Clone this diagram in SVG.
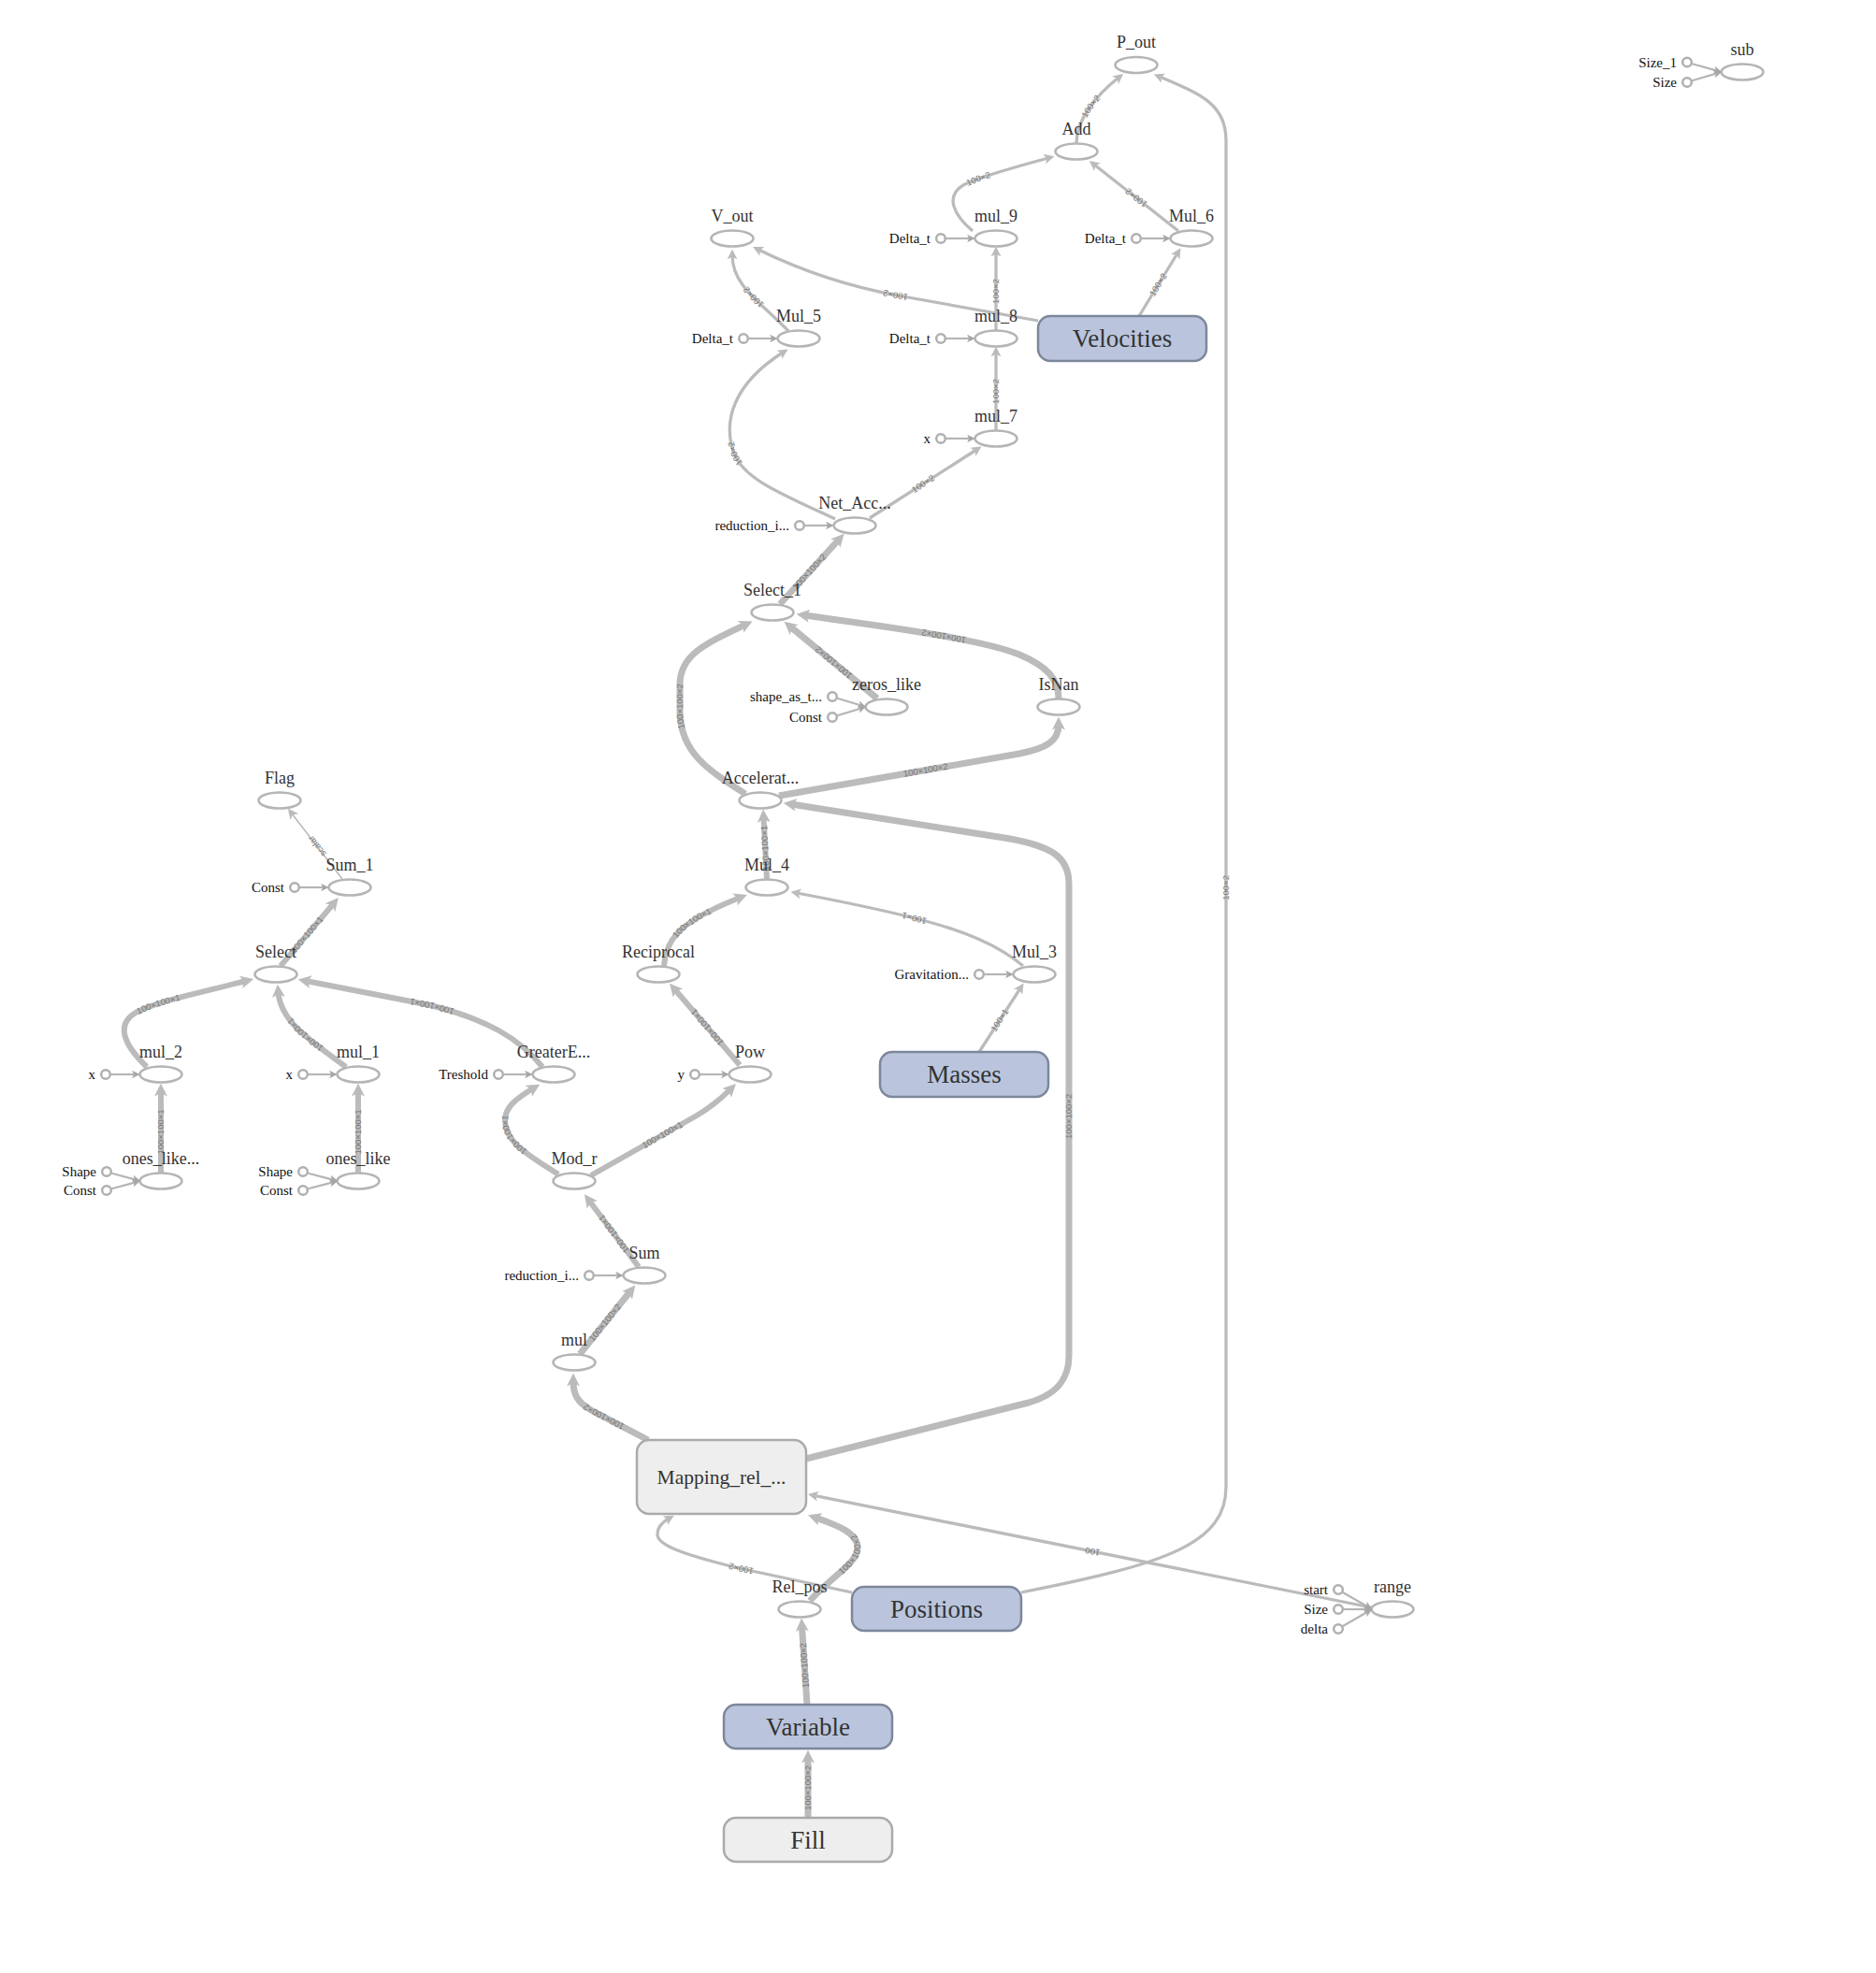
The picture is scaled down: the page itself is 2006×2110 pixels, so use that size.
<svg xmlns="http://www.w3.org/2000/svg" width="2006" height="2110" viewBox="0 0 2006 2110">
<style>
.op{fill:#fff;stroke:#b5b5b5;stroke-width:2.6}
.cc{fill:#fff;stroke:#b0b0b0;stroke-width:2.5}
.ca{fill:none;stroke:#b5b5b5;stroke-width:2.2;marker-end:url(#ahC)}
.lbl{font-family:"Liberation Serif",serif;font-size:18px;fill:#333;text-anchor:middle}
.clbl{font-family:"Liberation Serif",serif;font-size:15px;fill:#111;text-anchor:end}
.mb{fill:#bac5dd;stroke:#7d879b;stroke-width:2.5}
.mg{fill:#eee;stroke:#aaa;stroke-width:2.5}
.mt{font-family:"Liberation Serif",serif;font-size:27px;fill:#333;text-anchor:middle}
.e{fill:none;stroke:#bbb}
.w1{stroke-width:1.6;marker-end:url(#ah)}
.w3{stroke-width:3.3;marker-end:url(#ah)}
.w6{stroke-width:6;marker-end:url(#ahT)}
.w7{stroke-width:7;marker-end:url(#ahT)}
.el{font-family:"Liberation Sans",sans-serif;font-size:9.5px;fill:#777}
</style>
<defs>
<marker id="ah" viewBox="0 0 10 10" refX="4" refY="5" markerUnits="userSpaceOnUse" markerWidth="11" markerHeight="11" orient="auto"><path d="M0,0 L10,5 L0,10 L2.5,5 z" fill="#bbb"/></marker>
<marker id="ahT" viewBox="0 0 10 10" refX="4" refY="5" markerUnits="userSpaceOnUse" markerWidth="14" markerHeight="14" orient="auto"><path d="M0,0 L10,5 L0,10 L2.5,5 z" fill="#bbb"/></marker>
<marker id="ahC" viewBox="0 0 10 10" refX="4" refY="5" markerUnits="userSpaceOnUse" markerWidth="8.5" markerHeight="8.5" orient="auto"><path d="M0,0 L10,5 L0,10 L2.5,5 z" fill="#a6a6a6"/></marker>
</defs>
<rect width="2006" height="2110" fill="#fff"/>

<g id="connectors">
<path id="e1" class="e w3" d="M1151,153 C1151,128 1172,102 1196,83"/>
<path id="e2" class="e w3" d="M1092,1703 C1250,1672 1311,1650 1311,1590 L1311,150 C1311,112 1285,101 1240,82"/>
<path id="e3" class="e w3" d="M1040,247 C1020,230 1010,210 1030,198 C1045,190 1080,180 1121,169"/>
<path id="e4" class="e w3" d="M1260,247 L1170,176"/>
<path id="e5" class="e w3" d="M1110,343 L960,316 C900,305 852,287 811,267"/>
<path id="e6" class="e w3" d="M1218,338 L1259,271"/>
<path id="e7" class="e w3" d="M843,354 C812,322 783,305 783,273"/>
<path id="e8" class="e w3" d="M1065,353 L1065,270"/>
<path id="e9" class="e w3" d="M1065,460 L1065,377"/>
<path id="e10" class="e w3" d="M893,555 C835,528 795,512 785,485 C772,450 785,410 837,377"/>
<path id="e11" class="e w3" d="M930,554 L1044,481"/>
<path id="e12" class="e w7" d="M834,646 L897,577"/>
<path id="e13" class="e w7" d="M938,747 L845,670"/>
<path id="e14" class="e w7" d="M1132,747 C1132,725 1118,712 1090,700 C1045,682 930,668 860,658"/>
<path id="e15" class="e w7" d="M797,849 C758,824 727,805 727,760 L727,732 C727,700 755,688 797,668"/>
<path id="e16" class="e w7" d="M833,851 L1090,806 C1120,800 1132,792 1132,775"/>
<path id="e17" class="e w6" d="M820,940 L816.5,874"/>
<path id="e18" class="e w7" d="M862,1560 L1100,1500 C1135,1490 1143,1470 1143,1450 L1143,945 C1143,915 1122,905 1080,897 L846,860"/>
<path id="e19" class="e w6" d="M710,1033 C712,1003 728,985 791,960"/>
<path id="e20" class="e w3" d="M1094,1033 C1055,1000 1000,983 852,955"/>
<path id="e21" class="e w3" d="M1047,1125 L1091,1057"/>
<path id="e22" class="e w6" d="M791,1139 L721.5,1058"/>
<path id="e23" class="e w6" d="M632,1257 L745,1193 C762,1183 772,1174 781,1165"/>
<path id="e24" class="e w6" d="M597,1256 C565,1235 540,1222 540,1198 C540,1185 550,1176 570,1164"/>
<path id="e25" class="e w6" d="M683,1355 L630,1284"/>
<path id="e26" class="e w7" d="M620,1448 L674,1381"/>
<path id="e27" class="e w7" d="M693,1540 L632,1508 C618,1500 613,1492 613,1477"/>
<path id="e28" class="e w3" d="M911,1703 L790,1677 C728,1662 703,1652 703,1641 C703,1633 708,1628 715,1624"/>
<path id="e29" class="e w7" d="M866,1712 C890,1685 917,1672 917,1655 C917,1640 898,1632 872,1623"/>
<path id="e30" class="e w7" d="M863,1823 L857.5,1739"/>
<path id="e31" class="e w7" d="M864,1944 L864,1880"/>
<path id="e32" class="e w3" d="M1466,1719 L870.5,1599.3"/>
<path id="e33" class="e w1" d="M366,940 L312,870"/>
<path id="e34" class="e w6" d="M300,1033 L356.5,966.5"/>
<path id="e35" class="e w6" d="M157,1141 C130,1115 125,1095 145,1083 C165,1072 200,1065 263,1049"/>
<path id="e36" class="e w6" d="M370,1141 C330,1112 300,1092 297.5,1061"/>
<path id="e37" class="e w6" d="M580,1141 C555,1110 520,1090 460,1075 L327,1049"/>
<path id="e38" class="e w6" d="M172,1254 L172,1167"/>
<path id="e39" class="e w6" d="M383,1254 L383,1167"/>

<text class="el" dy="3.2"><textPath href="#e1" startOffset="50%" text-anchor="middle">100×2</textPath></text>
<text class="el" dy="3.2"><textPath href="#e2" startOffset="50%" text-anchor="middle">100×2</textPath></text>
<text class="el" dy="3.2"><textPath href="#e3" startOffset="50%" text-anchor="middle">100×2</textPath></text>
<text class="el" dy="3.2"><textPath href="#e4" startOffset="50%" text-anchor="middle">100×2</textPath></text>
<text class="el" dy="3.2"><textPath href="#e5" startOffset="50%" text-anchor="middle">100×2</textPath></text>
<text class="el" dy="3.2"><textPath href="#e6" startOffset="50%" text-anchor="middle">100×2</textPath></text>
<text class="el" dy="3.2"><textPath href="#e7" startOffset="50%" text-anchor="middle">100×2</textPath></text>
<text class="el" dy="3.2"><textPath href="#e8" startOffset="50%" text-anchor="middle">100×2</textPath></text>
<text class="el" dy="3.2"><textPath href="#e9" startOffset="50%" text-anchor="middle">100×2</textPath></text>
<text class="el" dy="3.2"><textPath href="#e10" startOffset="50%" text-anchor="middle">100×2</textPath></text>
<text class="el" dy="3.2"><textPath href="#e11" startOffset="50%" text-anchor="middle">100×2</textPath></text>
<text class="el" dy="3.2"><textPath href="#e12" startOffset="50%" text-anchor="middle">100×100×2</textPath></text>
<text class="el" dy="3.2"><textPath href="#e13" startOffset="50%" text-anchor="middle">100×100×2</textPath></text>
<text class="el" dy="3.2"><textPath href="#e14" startOffset="50%" text-anchor="middle">100×100×2</textPath></text>
<text class="el" dy="3.2"><textPath href="#e15" startOffset="50%" text-anchor="middle">100×100×2</textPath></text>
<text class="el" dy="3.2"><textPath href="#e16" startOffset="50%" text-anchor="middle">100×100×2</textPath></text>
<text class="el" dy="3.2"><textPath href="#e17" startOffset="50%" text-anchor="middle">100×100×1</textPath></text>
<text class="el" dy="3.2"><textPath href="#e18" startOffset="50%" text-anchor="middle">100×100×2</textPath></text>
<text class="el" dy="3.2"><textPath href="#e19" startOffset="50%" text-anchor="middle">100×100×1</textPath></text>
<text class="el" dy="3.2"><textPath href="#e20" startOffset="50%" text-anchor="middle">100×1</textPath></text>
<text class="el" dy="3.2"><textPath href="#e21" startOffset="50%" text-anchor="middle">100×1</textPath></text>
<text class="el" dy="3.2"><textPath href="#e22" startOffset="50%" text-anchor="middle">100×100×1</textPath></text>
<text class="el" dy="3.2"><textPath href="#e23" startOffset="50%" text-anchor="middle">100×100×1</textPath></text>
<text class="el" dy="3.2"><textPath href="#e24" startOffset="50%" text-anchor="middle">100×100×1</textPath></text>
<text class="el" dy="3.2"><textPath href="#e25" startOffset="50%" text-anchor="middle">100×100×1</textPath></text>
<text class="el" dy="3.2"><textPath href="#e26" startOffset="50%" text-anchor="middle">100×100×2</textPath></text>
<text class="el" dy="3.2"><textPath href="#e27" startOffset="50%" text-anchor="middle">100×100×2</textPath></text>
<text class="el" dy="3.2"><textPath href="#e28" startOffset="50%" text-anchor="middle">100×2</textPath></text>
<text class="el" dy="3.2"><textPath href="#e29" startOffset="50%" text-anchor="middle">100×100×2</textPath></text>
<text class="el" dy="3.2"><textPath href="#e30" startOffset="50%" text-anchor="middle">100×100×2</textPath></text>
<text class="el" dy="3.2"><textPath href="#e31" startOffset="50%" text-anchor="middle">100×100×2</textPath></text>
<text class="el" dy="3.2"><textPath href="#e32" startOffset="50%" text-anchor="middle">100</textPath></text>
<text class="el" dy="3.2"><textPath href="#e33" startOffset="50%" text-anchor="middle">scalar</textPath></text>
<text class="el" dy="3.2"><textPath href="#e34" startOffset="50%" text-anchor="middle">100×100×1</textPath></text>
<text class="el" dy="3.2"><textPath href="#e35" startOffset="50%" text-anchor="middle">100×100×1</textPath></text>
<text class="el" dy="3.2"><textPath href="#e36" startOffset="50%" text-anchor="middle">100×100×1</textPath></text>
<text class="el" dy="3.2"><textPath href="#e37" startOffset="50%" text-anchor="middle">100×100×1</textPath></text>
<text class="el" dy="3.2"><textPath href="#e38" startOffset="50%" text-anchor="middle">100×100×1</textPath></text>
<text class="el" dy="3.2"><textPath href="#e39" startOffset="50%" text-anchor="middle">100×100×1</textPath></text>
</g>

<g id="P_out"><ellipse class="op" cx="1215" cy="69.5" rx="22.5" ry="8.5"/><text class="lbl" x="1215" y="51">P_out</text></g>
<g id="Add"><ellipse class="op" cx="1151" cy="162" rx="22.5" ry="8.5"/><text class="lbl" x="1151" y="144">Add</text></g>
<g id="V_out"><ellipse class="op" cx="783" cy="255" rx="22.5" ry="8.5"/><text class="lbl" x="783" y="237">V_out</text></g>
<g id="mul_9"><ellipse class="op" cx="1065" cy="255" rx="22.5" ry="8.5"/><text class="lbl" x="1065" y="237">mul_9</text>
<circle class="cc" cx="1006" cy="255" r="4.8"/><path class="ca" d="M1011,255 L1037.5,255"/><text class="clbl" x="995" y="260">Delta_t</text></g>
<g id="Mul_6"><ellipse class="op" cx="1274" cy="255" rx="22.5" ry="8.5"/><text class="lbl" x="1274" y="237">Mul_6</text>
<circle class="cc" cx="1215" cy="255" r="4.8"/><path class="ca" d="M1220,255 L1246.5,255"/><text class="clbl" x="1204" y="260">Delta_t</text></g>
<g id="Mul_5"><ellipse class="op" cx="854" cy="362" rx="22.5" ry="8.5"/><text class="lbl" x="854" y="344">Mul_5</text>
<circle class="cc" cx="795" cy="362" r="4.8"/><path class="ca" d="M800,362 L826.5,362"/><text class="clbl" x="784" y="367">Delta_t</text></g>
<g id="mul_8"><ellipse class="op" cx="1065" cy="362" rx="22.5" ry="8.5"/><text class="lbl" x="1065" y="344">mul_8</text>
<circle class="cc" cx="1006" cy="362" r="4.8"/><path class="ca" d="M1011,362 L1037.5,362"/><text class="clbl" x="995" y="367">Delta_t</text></g>
<g id="Velocities"><rect class="mb" x="1110" y="338" width="180" height="48" rx="13"/><text class="mt" x="1200" y="371">Velocities</text></g>
<g id="mul_7"><ellipse class="op" cx="1065" cy="469" rx="22.5" ry="8.5"/><text class="lbl" x="1065" y="451">mul_7</text>
<circle class="cc" cx="1006" cy="469" r="4.8"/><path class="ca" d="M1011,469 L1037.5,469"/><text class="clbl" x="995" y="474">x</text></g>
<g id="Net_Acc"><ellipse class="op" cx="914" cy="562" rx="22.5" ry="8.5"/><text class="lbl" x="914" y="544">Net_Acc...</text>
<circle class="cc" cx="855" cy="562" r="4.8"/><path class="ca" d="M860,562 L886.5,562"/><text class="clbl" x="844" y="567">reduction_i...</text></g>
<g id="Select_1"><ellipse class="op" cx="826" cy="655" rx="22.5" ry="8.5"/><text class="lbl" x="826" y="637">Select_1</text></g>
<g id="zeros_like"><ellipse class="op" cx="948" cy="756" rx="22.5" ry="8.5"/><text class="lbl" x="948" y="738">zeros_like</text>
<circle class="cc" cx="890" cy="745" r="4.8"/><circle class="cc" cx="890" cy="767" r="4.8"/>
<path class="ca" d="M894.5,746.5 L921,754.5"/><path class="ca" d="M894.5,765.5 L921,757.5"/>
<text class="clbl" x="879" y="750">shape_as_t...</text><text class="clbl" x="879" y="772">Const</text></g>
<g id="IsNan"><ellipse class="op" cx="1132" cy="756" rx="22.5" ry="8.5"/><text class="lbl" x="1132" y="738">IsNan</text></g>
<g id="Accelerat"><ellipse class="op" cx="813" cy="856" rx="22.5" ry="8.5"/><text class="lbl" x="813" y="838">Accelerat...</text></g>
<g id="Flag"><ellipse class="op" cx="299" cy="856" rx="22.5" ry="8.5"/><text class="lbl" x="299" y="838">Flag</text></g>
<g id="Sum_1"><ellipse class="op" cx="374" cy="949" rx="22.5" ry="8.5"/><text class="lbl" x="374" y="931">Sum_1</text>
<circle class="cc" cx="315" cy="949" r="4.8"/><path class="ca" d="M320,949 L346.5,949"/><text class="clbl" x="304" y="954">Const</text></g>
<g id="Mul_4"><ellipse class="op" cx="820" cy="949" rx="22.5" ry="8.5"/><text class="lbl" x="820" y="931">Mul_4</text></g>
<g id="Select"><ellipse class="op" cx="295" cy="1042" rx="22.5" ry="8.5"/><text class="lbl" x="295" y="1024">Select</text></g>
<g id="Reciprocal"><ellipse class="op" cx="704" cy="1042" rx="22.5" ry="8.5"/><text class="lbl" x="704" y="1024">Reciprocal</text></g>
<g id="Mul_3"><ellipse class="op" cx="1106" cy="1042" rx="22.5" ry="8.5"/><text class="lbl" x="1106" y="1024">Mul_3</text>
<circle class="cc" cx="1047" cy="1042" r="4.8"/><path class="ca" d="M1052,1042 L1078.5,1042"/><text class="clbl" x="1036" y="1047">Gravitation...</text></g>
<g id="mul_2"><ellipse class="op" cx="172" cy="1149" rx="22.5" ry="8.5"/><text class="lbl" x="172" y="1131">mul_2</text>
<circle class="cc" cx="113" cy="1149" r="4.8"/><path class="ca" d="M118,1149 L144.5,1149"/><text class="clbl" x="102" y="1154">x</text></g>
<g id="mul_1"><ellipse class="op" cx="383" cy="1149" rx="22.5" ry="8.5"/><text class="lbl" x="383" y="1131">mul_1</text>
<circle class="cc" cx="324" cy="1149" r="4.8"/><path class="ca" d="M329,1149 L355.5,1149"/><text class="clbl" x="313" y="1154">x</text></g>
<g id="GreaterE"><ellipse class="op" cx="592" cy="1149" rx="22.5" ry="8.5"/><text class="lbl" x="592" y="1131">GreaterE...</text>
<circle class="cc" cx="533" cy="1149" r="4.8"/><path class="ca" d="M538,1149 L564.5,1149"/><text class="clbl" x="522" y="1154">Treshold</text></g>
<g id="Pow"><ellipse class="op" cx="802" cy="1149" rx="22.5" ry="8.5"/><text class="lbl" x="802" y="1131">Pow</text>
<circle class="cc" cx="743" cy="1149" r="4.8"/><path class="ca" d="M748,1149 L774.5,1149"/><text class="clbl" x="732" y="1154">y</text></g>
<g id="Masses"><rect class="mb" x="941" y="1125" width="180" height="48" rx="13"/><text class="mt" x="1031" y="1158">Masses</text></g>
<g id="ones_like_1"><ellipse class="op" cx="172" cy="1263" rx="22.5" ry="8.5"/><text class="lbl" x="172" y="1245">ones_like...</text>
<circle class="cc" cx="114" cy="1253" r="4.8"/><circle class="cc" cx="114" cy="1273" r="4.8"/>
<path class="ca" d="M118.5,1254.5 L145,1261.6"/><path class="ca" d="M118.5,1271.5 L145,1264.4"/>
<text class="clbl" x="103" y="1258">Shape</text><text class="clbl" x="103" y="1278">Const</text></g>
<g id="ones_like"><ellipse class="op" cx="383" cy="1263" rx="22.5" ry="8.5"/><text class="lbl" x="383" y="1245">ones_like</text>
<circle class="cc" cx="324" cy="1253" r="4.8"/><circle class="cc" cx="324" cy="1273" r="4.8"/>
<path class="ca" d="M328.5,1254.5 L356,1261.6"/><path class="ca" d="M328.5,1271.5 L356,1264.4"/>
<text class="clbl" x="313" y="1258">Shape</text><text class="clbl" x="313" y="1278">Const</text></g>
<g id="Mod_r"><ellipse class="op" cx="614" cy="1263" rx="22.5" ry="8.5"/><text class="lbl" x="614" y="1245">Mod_r</text></g>
<g id="Sum"><ellipse class="op" cx="689" cy="1364" rx="22.5" ry="8.5"/><text class="lbl" x="689" y="1346">Sum</text>
<circle class="cc" cx="630" cy="1364" r="4.8"/><path class="ca" d="M635,1364 L661.5,1364"/><text class="clbl" x="619" y="1369">reduction_i...</text></g>
<g id="mul"><ellipse class="op" cx="614" cy="1457" rx="22.5" ry="8.5"/><text class="lbl" x="614" y="1439">mul</text></g>
<g id="Mapping_rel"><rect class="mg" x="681" y="1540" width="181" height="79" rx="13"/><text class="mt" x="771.5" y="1587" style="font-size:21.5px">Mapping_rel_...</text></g>
<g id="Rel_pos"><ellipse class="op" cx="855" cy="1721" rx="22.5" ry="8.5"/><text class="lbl" x="855" y="1703">Rel_pos</text></g>
<g id="Positions"><rect class="mb" x="911" y="1697" width="181" height="47" rx="13"/><text class="mt" x="1001.5" y="1730">Positions</text></g>
<g id="range"><ellipse class="op" cx="1489" cy="1721" rx="22.5" ry="8.5"/><text class="lbl" x="1489" y="1703">range</text>
<circle class="cc" cx="1431" cy="1700" r="4.8"/><circle class="cc" cx="1431" cy="1721" r="4.8"/><circle class="cc" cx="1431" cy="1742" r="4.8"/>
<path class="ca" d="M1435,1702.5 L1462.5,1718.3"/><path class="ca" d="M1436,1721 L1461.7,1721"/><path class="ca" d="M1435,1739.5 L1462.5,1723.7"/>
<text class="clbl" x="1420" y="1705">start</text><text class="clbl" x="1420" y="1726">Size</text><text class="clbl" x="1420" y="1747">delta</text></g>
<g id="Variable"><rect class="mb" x="774" y="1823" width="180" height="47" rx="13"/><text class="mt" x="864" y="1856">Variable</text></g>
<g id="Fill"><rect class="mg" x="774" y="1944" width="180" height="47" rx="13"/><text class="mt" x="864" y="1977">Fill</text></g>
<g id="sub"><ellipse class="op" cx="1863" cy="77" rx="22.5" ry="8.5"/><text class="lbl" x="1863" y="59">sub</text>
<circle class="cc" cx="1804" cy="66.5" r="4.8"/><circle class="cc" cx="1804" cy="88" r="4.8"/>
<path class="ca" d="M1808.5,68 L1836,75.6"/><path class="ca" d="M1808.5,86.5 L1836,78.4"/>
<text class="clbl" x="1793" y="71.5">Size_1</text><text class="clbl" x="1793" y="93">Size</text></g>
</svg>
